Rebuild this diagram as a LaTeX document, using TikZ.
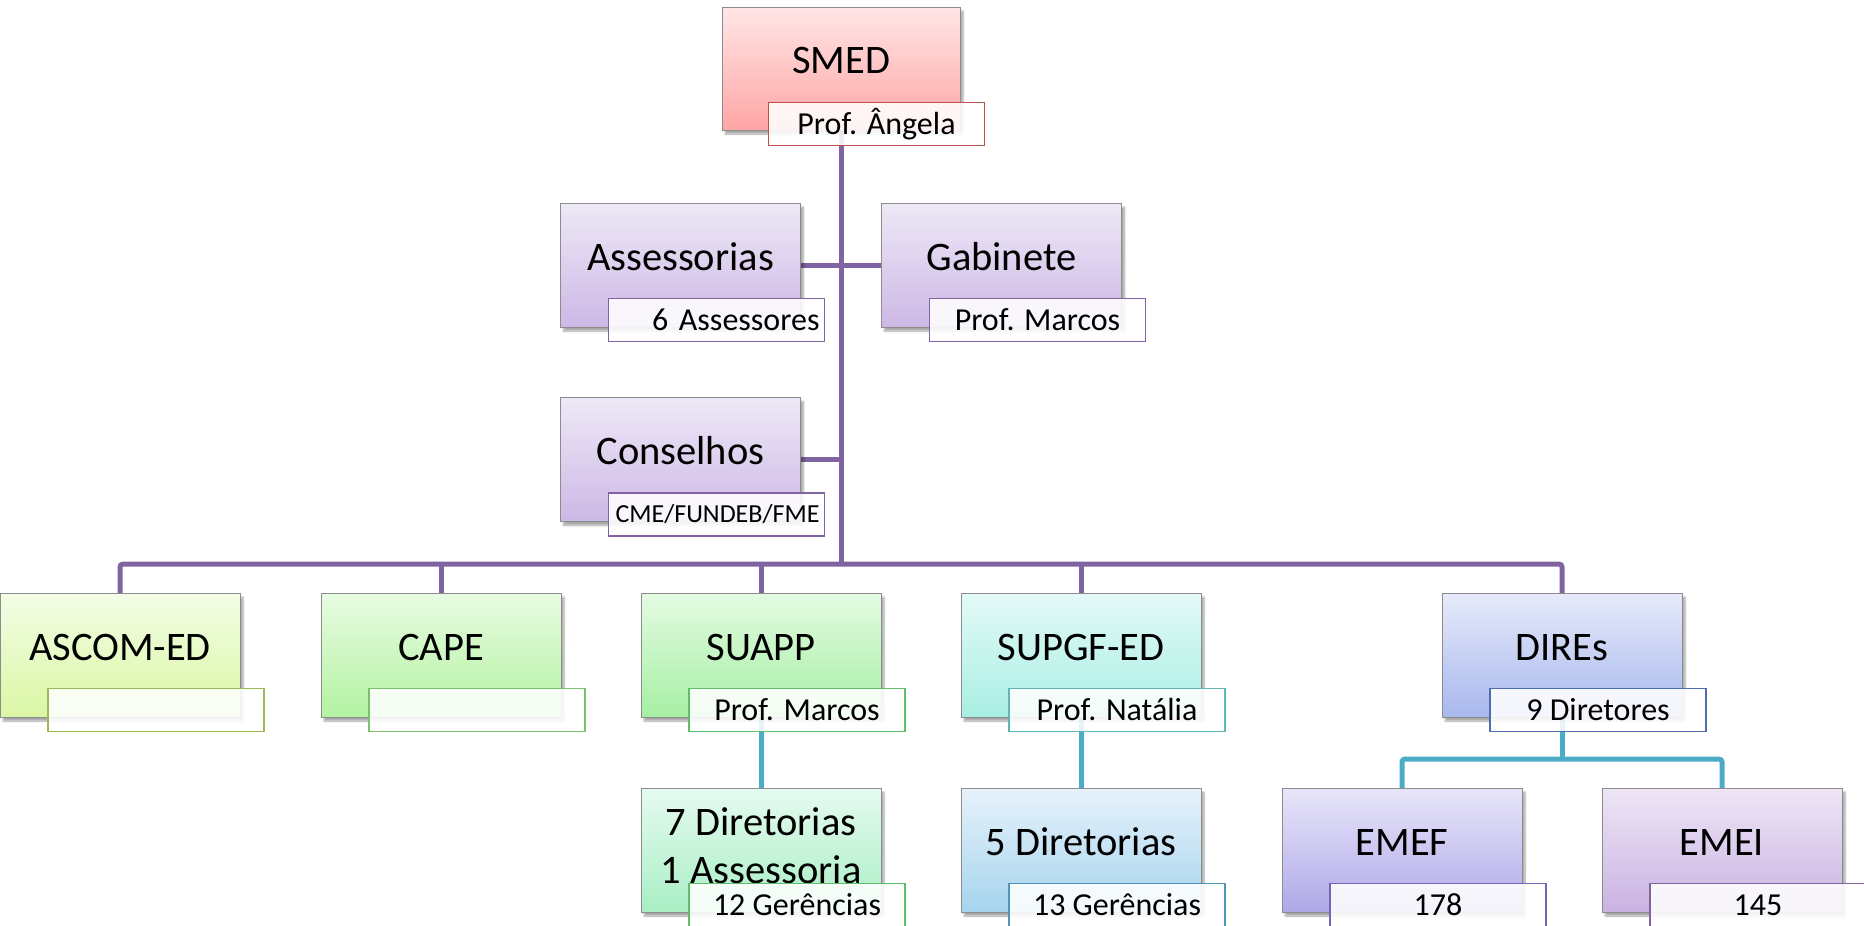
\documentclass[tikz,border=0pt]{standalone}
\usepackage{fontspec}
\setmainfont{Carlito}
\usetikzlibrary{shadows.blur}
\pgfdeclarelayer{background}
\pgfsetlayers{background,main}
\definecolor{trunk}{HTML}{8064A2}
\definecolor{blueline}{HTML}{4BACC6}
\definecolor{boxborder}{HTML}{8C8C8C}
\definecolor{smedtop}{HTML}{FFE6E6}\definecolor{smedbot}{HTML}{FFA5A5}\definecolor{smedb}{HTML}{C0504D}
\definecolor{lavtop}{HTML}{EEE8F6}\definecolor{lavbot}{HTML}{CDB8E6}\definecolor{lavb}{HTML}{8064A2}
\definecolor{ascomtop}{HTML}{F3FDE6}\definecolor{ascombot}{HTML}{DAF7A4}\definecolor{ascomb}{HTML}{9BBB59}
\definecolor{capetop}{HTML}{E8FCE2}\definecolor{capebot}{HTML}{B4F2A2}\definecolor{capeb}{HTML}{7CC26E}
\definecolor{suapptop}{HTML}{E4FBE2}\definecolor{suappbot}{HTML}{A6EFA4}\definecolor{suappb}{HTML}{5DBF6A}
\definecolor{dirsevtop}{HTML}{E6FBF0}\definecolor{dirsevbot}{HTML}{A8EEC4}
\definecolor{supgftop}{HTML}{E4FAF8}\definecolor{supgfbot}{HTML}{A8EEE2}\definecolor{supgfb}{HTML}{5FB6B4}
\definecolor{dirfivtop}{HTML}{E6F2FB}\definecolor{dirfivbot}{HTML}{A6D4EE}\definecolor{dirfivb}{HTML}{4F97B8}
\definecolor{direstop}{HTML}{E6EAFA}\definecolor{diresbot}{HTML}{A8B8EE}\definecolor{diresb}{HTML}{4F6CB0}
\definecolor{emeftop}{HTML}{E8E6FA}\definecolor{emefbot}{HTML}{AFA8E8}\definecolor{emefb}{HTML}{7565B5}
\definecolor{emeitop}{HTML}{EEE6F6}\definecolor{emeibot}{HTML}{C9B2E2}\definecolor{emeib}{HTML}{8064A2}
\tikzset{
  orgbox/.style={draw=boxborder, line width=0.8pt, minimum width=240pt, minimum height=124pt,
    inner sep=0pt, blur shadow={shadow xshift=3pt, shadow yshift=-4pt, shadow opacity=35, shadow blur steps=6}},
  title/.style={font=\fontsize{40.5}{48}\selectfont, align=center, inner sep=0pt, anchor=base},
  sublabel/.style={line width=1.6pt, fill=white, fill opacity=0.88, text opacity=1,
    minimum width=216pt, minimum height=43pt, inner sep=0pt, font=\fontsize{32}{36}\selectfont},
  purpleline/.style={draw=trunk, line width=5pt},
  blueconn/.style={draw=blueline, line width=5pt},
}
\begin{document}
\begin{tikzpicture}[x=1pt,y=-1pt]
\useasboundingbox (0,0) rectangle (1864,926);
% boxes
\node[orgbox, top color=smedtop, bottom color=smedbot, minimum width=238pt, minimum height=123pt] (smed) at (841,68.5) {};
\node[orgbox, top color=lavtop, bottom color=lavbot] (assess) at (680.5,265) {};
\node[orgbox, top color=lavtop, bottom color=lavbot] (gabinete) at (1001.5,265) {};
\node[orgbox, top color=lavtop, bottom color=lavbot] (conselhos) at (680.5,459.5) {};
\node[orgbox, top color=ascomtop, bottom color=ascombot] (ascom) at (120,655) {};
\node[orgbox, top color=capetop, bottom color=capebot] (cape) at (441,655) {};
\node[orgbox, top color=suapptop, bottom color=suappbot] (suapp) at (761,655) {};
\node[orgbox, top color=supgftop, bottom color=supgfbot] (supgf) at (1081,655) {};
\node[orgbox, top color=direstop, bottom color=diresbot] (dires) at (1562,655) {};
\node[orgbox, top color=dirsevtop, bottom color=dirsevbot] (dirsev) at (761,850) {};
\node[orgbox, top color=dirfivtop, bottom color=dirfivbot] (dirfiv) at (1081,850) {};
\node[orgbox, top color=emeftop, bottom color=emefbot] (emef) at (1402,850) {};
\node[orgbox, top color=emeitop, bottom color=emeibot] (emei) at (1722,850) {};
% titles
\node[title] (smedT) at ([shift={(0,5)}]smed.center) {SMED};
\node[title] (assessT) at ([shift={(0,5)}]assess.center) {Assessorias};
\node[title] (gabineteT) at ([shift={(0,5)}]gabinete.center) {Gabinete};
\node[title] (conselhosT) at ([shift={(0,5)}]conselhos.center) {Conselhos};
\node[title] (ascomT) at ([shift={(0,5)}]ascom.center) {ASCOM-ED};
\node[title] (capeT) at ([shift={(0,5)}]cape.center) {CAPE};
\node[title] (suappT) at ([shift={(0,5)}]suapp.center) {SUAPP};
\node[title] (supgfT) at ([shift={(0,5)}]supgf.center) {SUPGF-ED};
\node[title] (diresT) at ([shift={(0,5)}]dires.center) {DIREs};
\node[title, anchor=center] (dirsevT) at ([shift={(0,-4)}]dirsev.center) {7 Diretorias\\1 Assessoria};
\node[title] (dirfivT) at ([shift={(0,5)}]dirfiv.center) {5 Diretorias};
\node[title] (emefT) at ([shift={(0,5)}]emef.center) {EMEF};
\node[title] (emeiT) at ([shift={(0,5)}]emei.center) {EMEI};
% sublabels
\node[sublabel, draw=smedb] (smedS) at ([shift={(35.5,55.5)}]smed.center) {Prof. Ângela};
\node[sublabel, draw=lavb, text width=206pt, align=right] (assessS) at ([shift={(36,55)}]assess.center) {6 Assessores};
\node[sublabel, draw=lavb] (gabineteS) at ([shift={(36,55)}]gabinete.center) {Prof. Marcos};
\node[sublabel, draw=lavb, text width=206pt, align=right, font=\fontsize{26}{30}\selectfont] (conselhosS) at ([shift={(36,55)}]conselhos.center) {CME/FUNDEB/FME};
\node[sublabel, draw=ascomb] (ascomS) at ([shift={(36,55)}]ascom.center) {};
\node[sublabel, draw=capeb] (capeS) at ([shift={(36,55)}]cape.center) {};
\node[sublabel, draw=suappb] (suappS) at ([shift={(36,55)}]suapp.center) {Prof. Marcos};
\node[sublabel, draw=supgfb] (supgfS) at ([shift={(36,55)}]supgf.center) {Prof. Natália};
\node[sublabel, draw=diresb] (diresS) at ([shift={(36,55)}]dires.center) {9 Diretores};
\node[sublabel, draw=suappb] (dirsevS) at ([shift={(36,55)}]dirsev.center) {12 Gerências};
\node[sublabel, draw=dirfivb] (dirfivS) at ([shift={(36,55)}]dirfiv.center) {13 Gerências};
\node[sublabel, draw=emefb] (emefS) at ([shift={(36,55)}]emef.center) {178};
\node[sublabel, draw=emeib] (emeiS) at ([shift={(36,55)}]emei.center) {145};
% connectors
\coordinate (bus) at (841,564);
\coordinate (bbus) at (1562,759);
\begin{pgfonlayer}{background}
\draw[purpleline] (smed.center) -- (bus);
\draw[purpleline] (assess.center) -- (gabinete.center);
\draw[purpleline] (conselhos.center) -- (conselhos.center -| smed.center);
\draw[purpleline, rounded corners=3pt] (ascom.center) -- (ascom.center |- bus) -- (dires.center |- bus) -- (dires.center);
\draw[purpleline] (cape.center |- bus) -- (cape.center);
\draw[purpleline] (suapp.center |- bus) -- (suapp.center);
\draw[purpleline] (supgf.center |- bus) -- (supgf.center);
\draw[blueconn] (suapp.center) -- (dirsev.center);
\draw[blueconn] (supgf.center) -- (dirfiv.center);
\draw[blueconn] (dires.center) -- (bbus);
\draw[blueconn, rounded corners=3pt] (emef.center) -- (emef.center |- bbus) -- (emei.center |- bbus) -- (emei.center);
\end{pgfonlayer}
\end{tikzpicture}
\end{document}
